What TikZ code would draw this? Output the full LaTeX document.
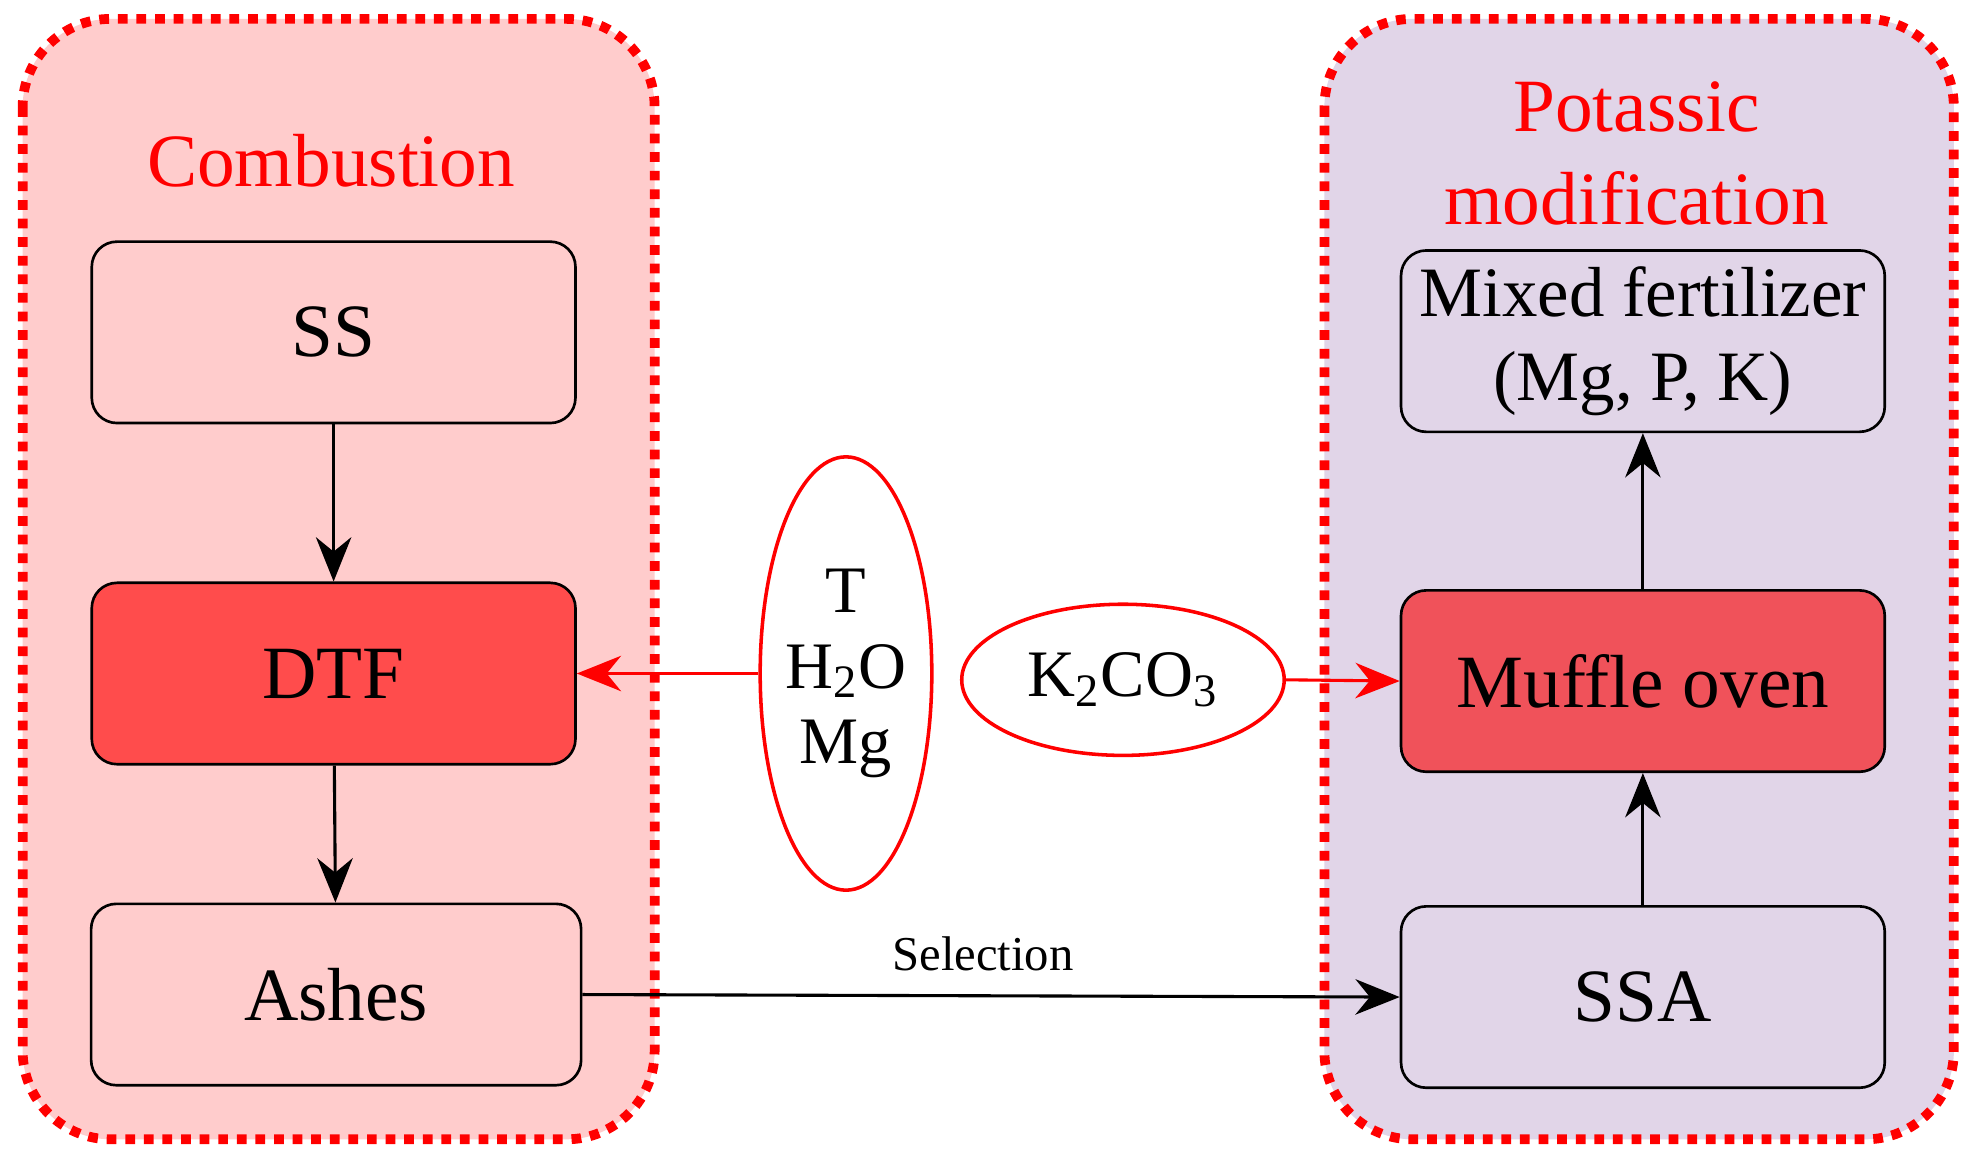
\documentclass[tikz,border=0pt]{standalone}
\usepackage{fontspec}
\setmainfont{Liberation Serif}
\usetikzlibrary{shapes.geometric,arrows.meta}
\definecolor{pinkbg}{RGB}{255,204,204}
\definecolor{lilac}{RGB}{225,213,232}
\definecolor{dtfred}{RGB}{255,76,76}
\definecolor{mufred}{RGB}{240,82,90}
\begin{document}
\begin{tikzpicture}[x=0.01cm,y=-0.01cm,
 cont/.style={draw=red,line width=2.2pt,dotted,rounded corners=0.7cm},
 box/.style={draw=black,line width=0.6pt,rounded corners=0.2cm,minimum width=3.84cm,minimum height=1.44cm,align=center,font=\fontsize{17}{20}\selectfont},
 arr/.style={-{Stealth[length=10pt,width=8pt]},line width=0.7pt},
 ell/.style={ellipse,draw=red,line width=0.8pt,fill=white,align=center,inner sep=0pt,font=\fontsize{15}{17}\selectfont},
 lab/.style={text=red,align=center,font=\fontsize{17}{19}\selectfont}]
\useasboundingbox (0,0) rectangle (1568,922);
\fill[white] (0,0) rectangle (1568,922);
\draw[cont,fill=pinkbg] (18,15) rectangle (520,905);
\draw[cont,fill=lilac] (1052,15) rectangle (1552,905);
\node[lab] (comb) at (263,128) {Combustion};
\node[lab,font=\fontsize{17}{21}\selectfont] (pot) at (1300,122) {Potassic\\modification};
\node[box,fill=pinkbg] (ss) at (265,264) {SS};
\node[box,fill=dtfred] (dtf) at (265,535) {DTF};
\node[box,fill=pinkbg,minimum width=3.89cm] (ash) at (267,790) {Ashes};
\node[box,fill=lilac,font=\fontsize{16}{19}\selectfont] (mix) at (1305,271) {Mixed fertilizer\\(Mg, P, K)};
\node[box,fill=mufred] (muf) at (1305,541) {Muffle oven};
\node[box,fill=lilac] (ssa) at (1305,792) {SSA};
\node[ell,minimum width=1.2cm,minimum height=3.44cm] (thm) at (672,535) {T\\H\textsubscript{2}O\\Mg};
\node[ell,minimum width=2.56cm,minimum height=1.2cm] (k) at (892,540) {K\textsubscript{2}CO\textsubscript{3}};
\draw[arr] (ss) -- (dtf);
\draw[arr] (dtf) -- (ash);
\draw[arr] (ash.east) -- node[above,font=\fontsize{11}{13}\selectfont,pos=0.49,yshift=2pt]{Selection} (ssa.west);
\draw[arr] (ssa) -- (muf);
\draw[arr] (muf) -- (mix);
\draw[arr,red] (thm.west) -- (dtf.east);
\draw[arr,red] (k.east) -- (muf.west);
\end{tikzpicture}
\end{document}
